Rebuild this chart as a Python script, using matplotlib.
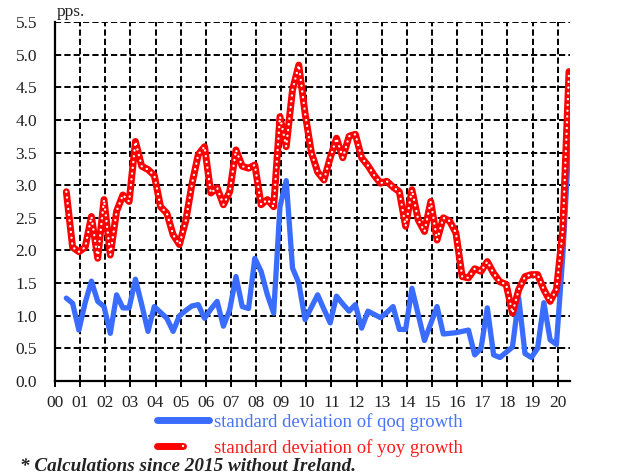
import matplotlib
matplotlib.use("Agg")
import matplotlib.pyplot as plt
from matplotlib.lines import Line2D
from matplotlib.legend_handler import HandlerTuple
import numpy as np

# ---- data (quarterly, 2000Q2 .. 2020Q2) ----
start_year, start_q = 2000, 2
qoq_std = [1.27, 1.19, 0.78, 1.20, 1.53, 1.22, 1.14, 0.73, 1.32, 1.12,
           1.12, 1.56, 1.17, 0.76, 1.14, 1.05, 0.96, 0.76, 1.00, 1.08,
           1.15, 1.17, 0.96, 1.10, 1.22, 0.84, 1.09, 1.60, 1.14, 1.11,
           1.88, 1.68, 1.32, 1.04, 2.67, 3.07, 1.73, 1.50, 0.94, 1.13,
           1.32, 1.10, 0.89, 1.30, 1.18, 1.07, 1.17, 0.81, 1.07, 1.02,
           0.97, 1.05, 1.14, 0.79, 0.79, 1.42, 1.02, 0.62, 0.88, 1.14,
           0.72, 0.73, 0.74, 0.76, 0.78, 0.40, 0.50, 1.12, 0.40, 0.36,
           0.44, 0.52, 1.27, 0.42, 0.36, 0.50, 1.20, 0.63, 0.56, 1.90,
           3.67]
yoy_std = [2.90, 2.05, 1.98, 2.05, 2.52, 1.88, 2.78, 1.93, 2.60, 2.85,
           2.75, 3.67, 3.29, 3.24, 3.15, 2.67, 2.57, 2.24, 2.09, 2.45,
           3.02, 3.47, 3.59, 2.88, 2.96, 2.70, 2.90, 3.54, 3.29, 3.26,
           3.31, 2.70, 2.78, 2.67, 4.05, 3.59, 4.46, 4.84, 4.10, 3.50,
           3.20, 3.08, 3.42, 3.72, 3.42, 3.75, 3.78, 3.42, 3.30, 3.15,
           3.03, 3.06, 2.97, 2.90, 2.37, 2.93, 2.47, 2.29, 2.75, 2.16,
           2.50, 2.45, 2.27, 1.60, 1.58, 1.72, 1.68, 1.83, 1.65, 1.52,
           1.48, 1.04, 1.40, 1.60, 1.63, 1.63, 1.40, 1.22, 1.40, 2.30,
           4.74]
year_ticks = list(range(2000, 2021))
year_labels = [f"{y % 100:02d}" for y in year_ticks]
y_ticks = [0.0, 0.5, 1.0, 1.5, 2.0, 2.5, 3.0, 3.5, 4.0, 4.5, 5.0, 5.5]
label_qoq = "standard deviation of qoq growth"
label_yoy = "standard deviation of yoy growth"
footnote = "* Calculations since 2015 without Ireland."
unit_label = "pps."

# quarter positions on a continuous year axis
n = len(qoq_std)
qidx = np.arange(n) + (start_q - 1)
x = start_year + qidx / 4.0 + 0.2

plt.rcParams["font.family"] = ["Liberation Serif", "DejaVu Serif"]

W, H = 626, 475
fig = plt.figure(figsize=(W / 100, H / 100), dpi=100)
ax = fig.add_axes([55 / W, 1 - 381 / H, (570 - 55) / W, (381 - 22) / H])

BLUE = "#3a6cff"
RED = "#ff0000"
TXT = "#222222"

ax.set_xlim(2000, 2020.49)
ax.set_ylim(0, 5.5)

# grid
for yv in y_ticks[1:]:
    ax.axhline(yv, color="black", lw=1.4, ls=(0, (3.2, 1.6)), zorder=1)
for xv in year_ticks[1:]:
    ax.axvline(xv, color="black", lw=1.4, ls=(0, (3.2, 1.6)), zorder=1)

# series
ax.plot(x, qoq_std, color=BLUE, lw=3.8, solid_joinstyle="round",
        solid_capstyle="round", zorder=3)
ax.plot(x, yoy_std, color=RED, lw=5.0, solid_joinstyle="round",
        solid_capstyle="round", zorder=4)
ax.plot(x, yoy_std, color="white", lw=1.7, ls=(0, (0.05, 2.4)),
        dash_capstyle="round", zorder=5)

# axes styling
for s in ["top", "right"]:
    ax.spines[s].set_visible(False)
for s in ["left", "bottom"]:
    ax.spines[s].set_color("black")
    ax.spines[s].set_linewidth(1.6)
ax.spines["left"].set_zorder(6)
ax.spines["bottom"].set_zorder(6)

ax.set_xticks(year_ticks)
ax.set_xticklabels(year_labels, fontsize=12.5, color=TXT)
ax.tick_params(axis="x", direction="out", length=4, width=1.4, pad=6)
ax.set_yticks(y_ticks)
ax.set_yticklabels([f"{v:.1f}" for v in y_ticks], fontsize=12.5, color=TXT)
ax.tick_params(axis="y", length=0, pad=13)

fig.text(57 / W, 1 - 16 / H, unit_label, fontsize=12.5, color=TXT,
         ha="left", va="baseline")

# legend
h_blue = Line2D([], [], color=BLUE, lw=5, solid_capstyle="round")
h_red = Line2D([], [], color=RED, lw=5, solid_capstyle="round")
h_dot = Line2D([], [], color="white", lw=1.7, ls=(0, (0.05, 2.4)),
               dash_capstyle="round")
leg = fig.legend([h_blue, (h_red, h_dot)], [label_qoq, label_yoy],
                 handler_map={tuple: HandlerTuple(ndivide=None, pad=0)},
                 loc="upper left", bbox_to_anchor=(157 / W, 1 - 413 / H),
                 frameon=False, fontsize=13.5, handlelength=2.75,
                 handletextpad=0.3, labelspacing=0.42, borderpad=0,
                 borderaxespad=0)
leg.get_texts()[0].set_color("#4a74f5")
leg.get_texts()[1].set_color("#ff1a1a")

fig.text(20 / W, 1 - 471 / H, footnote, fontsize=13.8, style="italic",
         weight="bold", color=TXT, ha="left", va="baseline")

fig.savefig("out.png", dpi=100, facecolor="white")
